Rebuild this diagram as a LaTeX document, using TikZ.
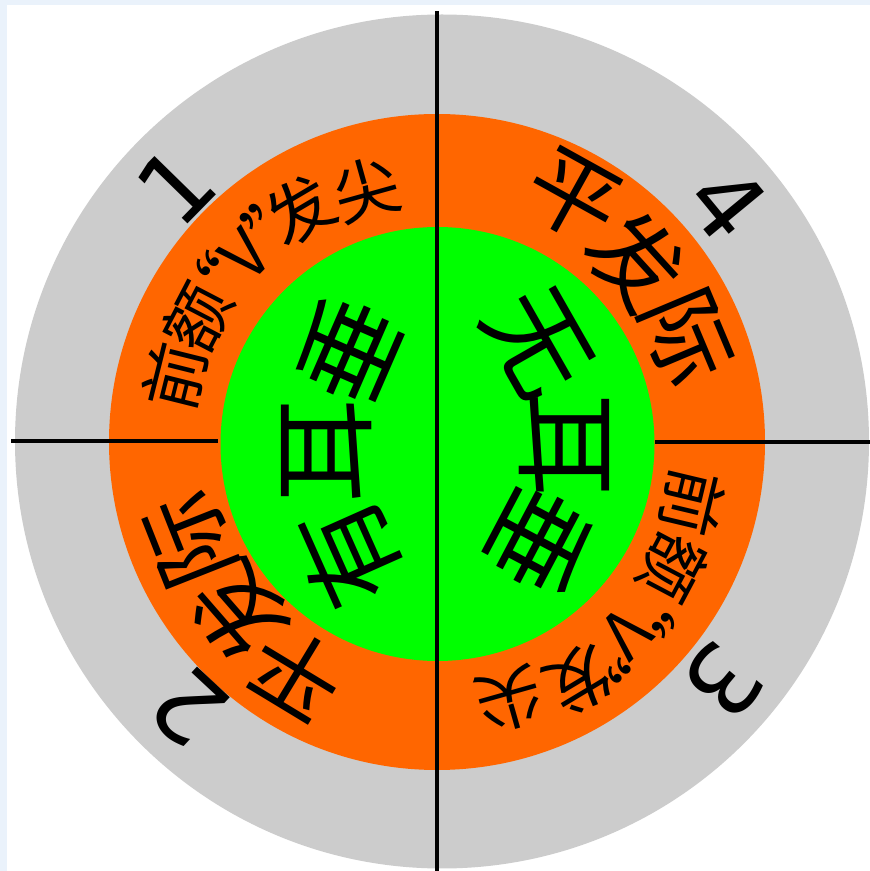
\documentclass[tikz,border=0pt]{standalone}
\usepackage{fontspec}
\newfontfamily\cjk{Noto Sans CJK SC}
\newfontfamily\digitfont{DejaVu Sans}
\usetikzlibrary{calc}
\definecolor{ringgray}{HTML}{CCCCCC}
\definecolor{ringorange}{HTML}{FF6600}
\definecolor{ringgreen}{HTML}{00FF00}
\definecolor{edgeblue}{HTML}{EAF2FB}
\begin{document}
\begin{tikzpicture}[x=1pt,y=1pt,
  ch/.style={inner sep=0pt, outer sep=0pt, anchor=center, text=black},
  smalltxt/.style={ch, font=\cjk\fontsize{66}{66}\selectfont},
  bigtxt/.style={ch, font=\cjk\fontsize{92}{92}\selectfont},
  hugetxt/.style={ch, font=\cjk\fontsize{105}{105}\selectfont},
  numtxt/.style={ch, font=\digitfont\fontsize{97}{97}\selectfont},
  divider/.style={line width=3.5pt, draw=black}]
\useasboundingbox (0,0) rectangle (870,871);
\fill[edgeblue] (0,0) rectangle (870,871);
\fill[white] (7,0) rectangle (870,866);
% rings
\coordinate (O) at (437,429);
\coordinate (G) at (442,429.5);
\coordinate (Gc) at (437.5,427);
\fill[ringgray] (G) circle[radius=427];
\fill[ringorange] (O) circle[radius=328];
\fill[ringgreen] (Gc) circle[radius=217];
% dividers
\coordinate (vtop) at (437,860);
\coordinate (vbot) at (437,0);
\coordinate (hl1) at (11,430);
\coordinate (hl2) at (218,430);
\coordinate (hr1) at (655,429);
\coordinate (hr2) at (870,429);
\draw[divider] (vtop) -- (vbot);
\draw[divider] (hl1) -- (hl2);
\draw[divider] (hr1) -- (hr2);
% orange ring: small text
\foreach \t/\a/\r/\n in {前/166/270/tla,额/152.5/270/tlb,“V”/135.7/271/tlc,发/120.6/269/tld,尖/105.6/262/tle,
  前/-13.4/263/bra,额/-27.9/267/brb,“V”/-45.3/272/brc,发/-59/278/brd,尖/-74.2/268/bre}
  \node[smalltxt, rotate=\a-90] (\n) at ($(O)+(\a:\r)$) {\t};
% orange ring: big text
\foreach \t/\a/\r/\n in {平/61/280/tra,发/42.3/270/trb,际/22.8/271/trc,
  平/238.8/270/bla,发/221/261/blb,际/201.6/266/blc}
  \node[bigtxt, rotate=\a-90] (\n) at ($(O)+(\a:\r)$) {\t};
% numbers
\foreach \t/\a/\r/\n in {1/135.6/366/numa,4/39.5/376/numd,2/227/364/numb,3/-39.8/373/numc}
  \node[numtxt, rotate=\a-90] (\n) at ($(O)+(\a:\r)$) {\t};
% green text
\coordinate (Lc) at (580,420);
\coordinate (Rc) at (358,426);
\foreach \t/\a/\n in {垂/156.5/gla,耳/180/glb,有/204/glc}
  \node[hugetxt, rotate=\a-90] (\n) at ($(Lc)+(\a:253)$) {\t};
\foreach \t/\a/\n in {无/29.7/gra,耳/0/grb,垂/-27.8/grc}
  \node[hugetxt, rotate=\a-90] (\n) at ($(Rc)+(\a:206)$) {\t};
\end{tikzpicture}
\end{document}
